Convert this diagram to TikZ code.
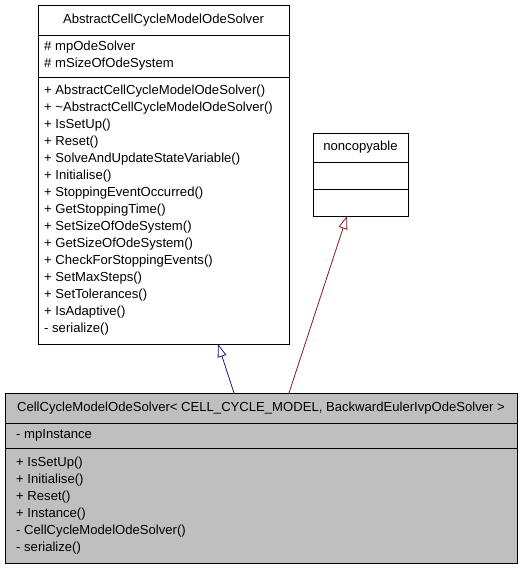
\documentclass[tikz,border=0pt]{standalone}
\usepackage{fontspec}
\setmainfont{Liberation Sans}
\usetikzlibrary{arrows.meta,calc}
\definecolor{pubedge}{HTML}{191970}
\definecolor{privedge}{HTML}{8B1A1A}
\definecolor{boxgrey}{HTML}{BFBFBF}
\begin{document}
\begin{tikzpicture}[x=1pt,y=-1pt,
  classbox/.style={draw=black, line width=0.9pt, inner sep=0pt, outer sep=0pt, anchor=north west},
  sepline/.style={draw=black, line width=0.9pt},
  member/.style={anchor=west, inner sep=0pt, font=\fontsize{13.1}{15}\selectfont},
  ctitle/.style={anchor=center, inner sep=0pt, font=\fontsize{13.1}{15}\selectfont},
  inherit/.style={line width=0.8pt, -{Triangle[open, length=13pt, width=9pt, line width=0.8pt]}},
]
\useasboundingbox (0,0) rectangle (523,568);
% base class box
\node[classbox, fill=white, minimum width=251pt, minimum height=339pt] (base) at (38,5) {};
\draw[sepline] (38,35) -- (289,35);
\draw[sepline] (38,77) -- (289,77);
\node[ctitle] (basetitle) at (163.5,20) {AbstractCellCycleModelOdeSolver};
\node[member] (ba1) at (44,47.5) {\# mpOdeSolver};
\node[member] (ba2) at (44,64.5) {\# mSizeOfOdeSystem};
\foreach \t [count=\i] in {+ AbstractCellCycleModelOdeSolver(),
  + \textasciitilde AbstractCellCycleModelOdeSolver(),
  + IsSetUp(), + Reset(), + SolveAndUpdateStateVariable(), + Initialise(),
  + StoppingEventOccurred(), + GetStoppingTime(), + SetSizeOfOdeSystem(),
  + GetSizeOfOdeSystem(), + CheckForStoppingEvents(), + SetMaxSteps(),
  + SetTolerances(), + IsAdaptive(), - serialize()}
  \node[member, name=bm\i] at (44,{91.5+17*(\i-1)}) {\t};
% noncopyable box
\node[classbox, fill=white, minimum width=95pt, minimum height=83pt] (nc) at (313,133) {};
\draw[sepline] (313,162) -- (408,162);
\draw[sepline] (313,189) -- (408,189);
\node[ctitle] (nctitle) at (360.5,147.5) {noncopyable};
% derived class box
\node[classbox, fill=boxgrey, minimum width=512pt, minimum height=170pt] (derived) at (5,393) {};
\draw[sepline] (5,423) -- (517,423);
\draw[sepline] (5,448) -- (517,448);
\node[ctitle] (dtitle) at (261,408) {CellCycleModelOdeSolver< CELL\_CYCLE\_MODEL, BackwardEulerIvpOdeSolver >};
\node[member] (da1) at (16,435.5) {- mpInstance};
\foreach \t [count=\i] in {+ IsSetUp(), + Initialise(), + Reset(), + Instance(),
  - CellCycleModelOdeSolver(), - serialize()}
  \node[member, name=dm\i] at (16,{463+17*(\i-1)}) {\t};
% inheritance connectors
\draw[inherit, pubedge] ($(derived.north west)+(229,0)$) -- ($(base.south west)+(180,0)$);
\draw[inherit, privedge] ($(derived.north west)+(284,0)$) -- ($(nc.south west)+(34,0)$);
\end{tikzpicture}
\end{document}
